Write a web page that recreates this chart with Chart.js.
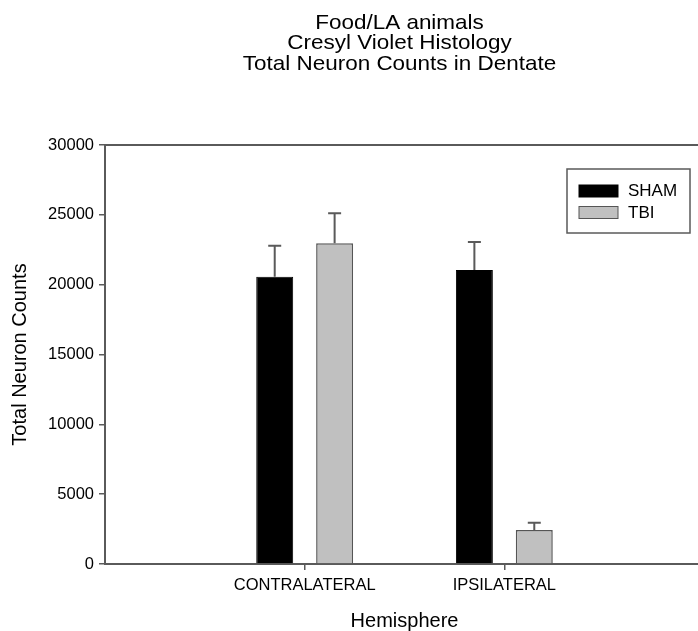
<!DOCTYPE html>
<html>
<head>
<meta charset="utf-8">
<script src="https://cdn.jsdelivr.net/npm/chart.js@4/dist/chart.umd.min.js"></script>
<style>
  html, body { margin: 0; padding: 0; background: #fff; overflow: hidden; }
  #wrap { width: 698px; height: 631px; overflow: hidden; position: relative; }
  canvas { display: block; }
</style>
</head>
<body>
<div id="wrap"><canvas id="c" width="710" height="631"></canvas></div>
<script>
// ---- data ----
const titleLines = ['Food/LA animals', 'Cresyl Violet Histology', 'Total Neuron Counts in Dentate'];
const categories = ['CONTRALATERAL', 'IPSILATERAL'];
const shamMeans = [20570, 21050];
const shamErrors = [2220, 2000];
const tbiMeans = [22960, 2430];
const tbiErrors = [2160, 530];
const yTickValues = [0, 5000, 10000, 15000, 20000, 25000, 30000];
const xAxisTitle = 'Hemisphere';
const yAxisTitle = 'Total Neuron Counts';

// padded category list (empty slots at both ends keep the spacing of the original)
const labels = [''].concat(categories, ['']);
const pad = arr => [null].concat(arr, [null]);

const FONT = "'Liberation Sans', Arial, sans-serif";
const AXIS = '#5a5a5a';

const errorBars = {
  id: 'errorBars',
  afterDatasetsDraw(chart) {
    const ctx = chart.ctx;
    const y = chart.scales.y;
    ctx.save();
    ctx.strokeStyle = AXIS;
    ctx.lineWidth = 2;
    chart.data.datasets.forEach((ds, di) => {
      const meta = chart.getDatasetMeta(di);
      meta.data.forEach((el, i) => {
        const v = ds.data[i];
        if (v === null || v === undefined) return;
        const e = ds.errors[i];
        const yTop = y.getPixelForValue(v + e);
        ctx.beginPath();
        ctx.moveTo(el.x, el.y);
        ctx.lineTo(el.x, yTop);
        ctx.moveTo(el.x - 6.5, yTop);
        ctx.lineTo(el.x + 6.5, yTop);
        ctx.stroke();
      });
    });
    ctx.restore();
  }
};

const frame = {
  id: 'frame',
  afterDraw(chart) {
    const ctx = chart.ctx;
    const a = chart.chartArea;
    ctx.save();
    // top border
    ctx.strokeStyle = AXIS;
    ctx.lineWidth = 2;
    ctx.beginPath();
    ctx.moveTo(a.left, a.top);
    ctx.lineTo(chart.width, a.top);
    ctx.stroke();
    // title (slightly wide lettering, as in the original)
    const cx = (a.left + a.right) / 2 - 5;
    ctx.save();
    ctx.translate(cx, 0);
    ctx.scale(1.07, 1);
    ctx.fillStyle = '#000';
    ctx.font = '21px ' + FONT;
    ctx.textAlign = 'center';
    ctx.textBaseline = 'alphabetic';
    titleLines.forEach((t, i) => ctx.fillText(t, 0, 28.5 + i * 20.5));
    ctx.restore();
    // legend
    const bx = a.right - 137, by = a.top + 24, bw = 123, bh = 64;
    ctx.lineWidth = 1.5;
    ctx.strokeStyle = AXIS;
    ctx.strokeRect(bx, by, bw, bh);
    ctx.font = '17px ' + FONT;
    ctx.textAlign = 'left';
    ctx.textBaseline = 'middle';
    chart.data.datasets.forEach((ds, i) => {
      const sy = by + 16 + i * 21.5;
      ctx.fillStyle = ds.backgroundColor;
      ctx.fillRect(bx + 12, sy, 39, 12);
      ctx.lineWidth = 1;
      ctx.strokeStyle = ds.borderColor;
      ctx.strokeRect(bx + 12, sy, 39, 12);
      ctx.fillStyle = '#000';
      ctx.fillText(ds.label, bx + 61, sy + 6.5);
    });
    ctx.restore();
  }
};

new Chart(document.getElementById('c'), {
  type: 'bar',
  data: {
    labels: labels,
    datasets: [
      { label: 'SHAM', data: pad(shamMeans), errors: pad(shamErrors),
        backgroundColor: '#000000', borderColor: '#000000', borderWidth: 1,
        barPercentage: 0.617, categoryPercentage: 0.6 },
      { label: 'TBI', data: pad(tbiMeans), errors: pad(tbiErrors),
        backgroundColor: '#c0c0c0', borderColor: '#555555', borderWidth: 1.5,
        barPercentage: 0.617, categoryPercentage: 0.6 }
    ]
  },
  options: {
    responsive: false,
    animation: false,
    devicePixelRatio: 1,
    layout: { padding: { top: 145, right: 3, left: 0, bottom: 0 } },
    plugins: { legend: { display: false }, title: { display: false }, tooltip: { enabled: false } },
    scales: {
      x: {
        type: 'category',
        offset: false,
        afterFit: s => { s.height = 67; },
        grid: {
          offset: false,
          drawOnChartArea: false,
          drawTicks: true,
          tickLength: 6,
          lineWidth: 1.5,
          color: c => (c.index === 0 || c.index === labels.length - 1) ? 'rgba(0,0,0,0)' : AXIS
        },
        border: { display: true, color: AXIS, width: 2 },
        ticks: { autoSkip: false, maxRotation: 0, padding: 6, color: '#000',
                 font: { family: FONT, size: 16.5 } },
        title: { display: true, text: xAxisTitle, color: '#000',
                 font: { family: FONT, size: 20, lineHeight: 1 }, padding: { top: 0, bottom: 0 } }
      },
      y: {
        min: 0, max: 30000,
        afterFit: s => { s.width = 105; },
        afterBuildTicks: s => { s.ticks = yTickValues.map(v => ({ value: v })); },
        grid: { drawOnChartArea: false, drawTicks: true, tickLength: 6, lineWidth: 1.5, color: AXIS },
        border: { display: true, color: AXIS, width: 2 },
        ticks: { padding: 5, color: '#000', font: { family: FONT, size: 16.5 },
                 callback: v => String(v) },
        title: { display: true, text: yAxisTitle, color: '#000',
                 font: { family: FONT, size: 20, lineHeight: 1.2 }, padding: { top: 8, bottom: 0 } }
      }
    }
  },
  plugins: [errorBars, frame]
});
</script>
</body>
</html>
